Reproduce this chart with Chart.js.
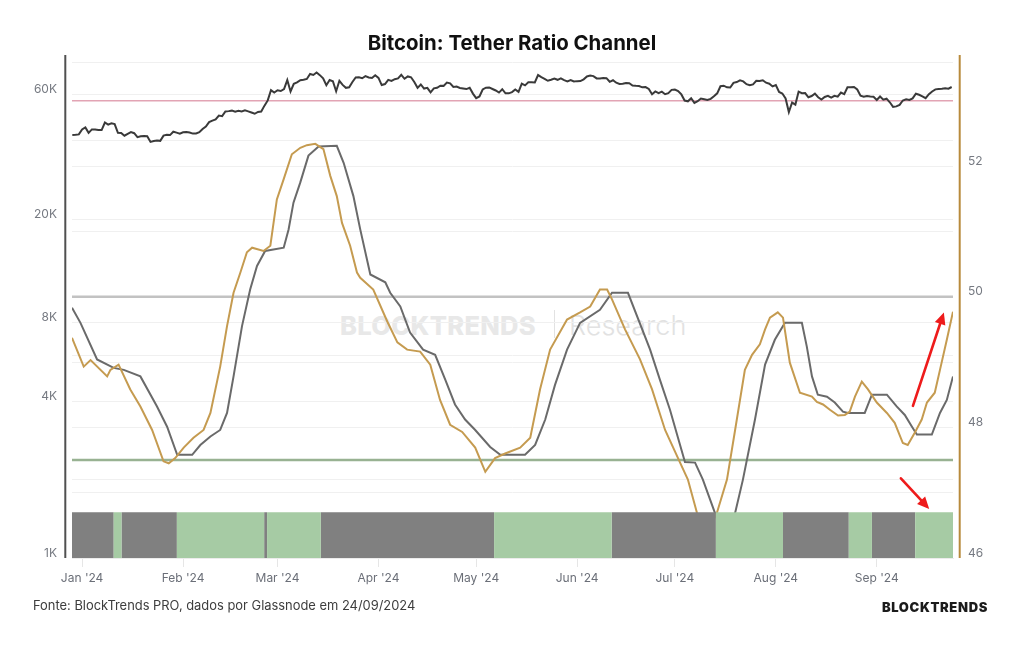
<!DOCTYPE html>
<html>
<head>
<meta charset="utf-8">
<script src="https://cdn.jsdelivr.net/npm/chart.js@4.4.1/dist/chart.umd.min.js"></script>
<style>
  html, body { margin: 0; padding: 0; background: #fff; }
  #wrap { position: relative; width: 1024px; height: 645px; overflow: hidden; font-family: Inter, "Open Sans", sans-serif; }
  #c { position: absolute; left: 0; top: 0; z-index: 1; }
  .wm1 { position: absolute; left: 340px; top: 311px; font: 800 25.5px Inter, sans-serif; color: #e8e8e8; line-height: 30px; z-index: 0; letter-spacing: 0.3px; }
  .wmbar { position: absolute; left: 554px; top: 310px; width: 1px; height: 28px; background: #e2e2e2; z-index: 0; }
  .wm2 { position: absolute; left: 569px; top: 310px; font: 300 27px Inter, sans-serif; color: #e2e2e2; line-height: 32px; z-index: 0; }
  #title { position: absolute; left: 0; top: 30px; width: 1024px; text-align: center; font: 700 20.4px Inter, sans-serif; color: #111; line-height: 26px; z-index: 2; }
  #src { position: absolute; left: 33px; top: 597px; font: 400 12.9px Inter, sans-serif; color: #3d3d3d; line-height: 18px; z-index: 2; }
  #logo { position: absolute; right: 36px; top: 598px; font: 900 13px Inter, sans-serif; color: #1b1b1b; line-height: 18px; letter-spacing: 0.65px; z-index: 2; }
</style>
</head>
<body>
<div id="wrap">
  <div class="wm1">BLOCKTRENDS</div>
  <div class="wmbar"></div>
  <div class="wm2">Research</div>
  <canvas id="c" width="1024" height="645"></canvas>
  <div id="title">Bitcoin: Tether Ratio Channel</div>
  <div id="src">Fonte: BlockTrends PRO, dados por Glassnode em 24/09/2024</div>
  <div id="logo">BLOCKTRENDS</div>
</div>
<script>
// ---------- DATA ----------
// Month tick positions (days since 1 Jan 2024) and labels
const monthDays = [0, 31, 60, 91, 121, 152, 182, 213, 244];
const monthLabels = ["Jan '24", "Feb '24", "Mar '24", "Apr '24", "May '24", "Jun '24", "Jul '24", "Aug '24", "Sep '24"];

// Left (log) axis
const priceGridTicks = [1000, 2000, 4000, 6000, 8000, 10000, 20000, 40000, 60000, 80000];
const priceLabelTicks = { 1000: '1K', 4000: '4K', 8000: '8K', 20000: '20K', 60000: '60K' };

// Right axis
const ratioTicks = [46, 47, 48, 49, 50, 51, 52, 53];

// BTC daily close in thousands USD, from 29 Dec 2023 (day -3) to 24 Sep 2024 (day 267)
const btcStartDay = -3;
const btcPriceK = [
  42.10, 42.15, 42.28,
  44.18, 44.95, 42.85, 44.18, 44.16, 43.97, 43.93, 46.97, 46.11, 46.63, 46.34, 42.89, 42.84, 41.80, 42.51, 43.15, 42.74, 41.26, 41.62, 41.66, 41.58, 39.57, 39.88, 40.08, 39.94, 41.82, 42.12, 42.03, 43.30, 42.94, 42.58,
  43.08, 43.19, 43.00, 42.58, 42.66, 43.09, 44.34, 45.30, 47.15, 47.77, 48.29, 49.96, 49.70, 51.80, 51.94, 52.16, 51.66, 52.12, 51.78, 52.28, 51.84, 51.30, 50.74, 51.57, 51.73, 54.52, 57.09, 62.50, 61.20,
  62.44, 62.03, 63.17, 68.33, 61.80, 66.10, 66.93, 68.30, 68.50, 69.02, 72.12, 71.48, 73.10, 71.40, 69.40, 65.30, 68.39, 67.60, 61.90, 67.90, 65.50, 63.80, 64.10, 67.20, 69.90, 69.99, 69.45, 70.74, 69.90, 69.65, 71.33,
  69.70, 65.40, 65.98, 68.50, 67.84, 68.90, 69.36, 71.62, 69.14, 70.59, 70.06, 67.20, 63.80, 65.74, 63.42, 63.81, 61.28, 63.51, 63.84, 64.99, 64.93, 66.84, 66.41, 64.29, 64.50, 63.76, 63.42, 63.11, 63.84, 60.64,
  58.25, 59.12, 62.89, 63.89, 64.03, 63.16, 62.33, 61.19, 63.05, 60.79, 60.79, 61.45, 62.90, 61.55, 66.27, 65.23, 67.05, 67.00, 66.94, 71.43, 70.14, 69.12, 67.93, 68.53, 69.27, 68.51, 69.39, 68.30, 67.58, 68.36, 67.49,
  67.71, 67.75, 68.80, 70.56, 71.08, 70.79, 69.34, 69.30, 69.65, 69.50, 67.32, 68.24, 66.75, 66.01, 66.19, 66.64, 66.49, 65.15, 64.96, 64.83, 64.10, 64.25, 63.18, 60.28, 61.80, 60.87, 61.67, 60.32, 60.89, 62.68,
  62.85, 62.03, 60.20, 57.05, 56.66, 58.23, 55.86, 56.70, 58.05, 57.72, 57.34, 57.89, 59.20, 60.80, 64.72, 65.04, 64.10, 63.97, 66.70, 67.15, 68.16, 67.55, 65.93, 65.37, 65.78, 67.90, 67.81, 68.25, 66.78, 66.19, 64.62,
  65.35, 61.50, 60.68, 58.11, 51.50, 56.03, 55.03, 61.71, 60.88, 60.94, 58.71, 59.35, 60.61, 58.74, 57.56, 58.88, 59.48, 58.48, 59.49, 59.01, 61.18, 60.38, 64.10, 64.18, 64.25, 62.88, 59.50, 59.03, 59.39, 59.12, 58.97,
  57.33, 59.12, 57.48, 57.97, 56.16, 53.95, 54.16, 54.87, 57.05, 57.65, 57.34, 58.13, 60.57, 60.00, 59.18, 58.21, 60.31, 61.76, 62.95, 63.20, 63.35, 63.58, 63.34, 64.28
];

// Tether ratio (gold) — [day, value]
const tetherRatio = [
  [-3.1,49.37],[0.5,48.93],[2.6,49.03],[7.7,48.78],[8.7,48.88],[11.2,48.96],[14.8,48.58],[17.9,48.32],[21.5,47.96],[25.0,47.48],
  [26.6,47.45],[28.6,47.53],[31.2,47.69],[34.2,47.84],[37.3,47.96],[39.4,48.22],[42.4,48.93],[44.5,49.55],[46.5,50.06],[48.6,50.37],
  [50.6,50.68],[52.2,50.75],[55.7,50.70],[57.8,50.78],[59.8,51.49],[61.9,51.80],[64.4,52.18],[67.0,52.28],[69.0,52.32],[71.6,52.34],
  [74.1,52.26],[76.2,51.85],[78.2,51.54],[79.8,51.13],[82.3,50.78],[84.4,50.37],[85.4,50.29],[89.4,50.11],[93.7,49.62],[96.8,49.30],
  [99.8,49.19],[103.8,49.16],[106.9,48.96],[109.9,48.42],[113.0,48.04],[116.7,47.93],[120.7,47.69],[123.8,47.32],[126.8,47.53],[129.9,47.60],
  [134.5,47.69],[137.6,47.84],[140.6,48.58],[143.7,49.19],[148.9,49.65],[152.9,49.76],[156.0,49.85],[159.0,50.11],[161.2,50.11],[162.7,49.96],
  [166.7,49.50],[171.3,49.04],[175.0,48.58],[179.0,47.96],[183.6,47.46],[186.0,47.20],[188.8,46.69],[191.2,46.30],[194.9,46.69],[198.0,47.20],
  [200.5,47.96],[203.5,48.88],[205.7,49.11],[208.1,49.27],[209.7,49.50],[211.2,49.68],[213.6,49.76],[215.2,49.68],[217.3,48.99],[220.4,48.53],
  [224.1,48.47],[225.6,48.39],[227.5,48.35],[229.6,48.27],[232.1,48.18],[234.2,48.19],[235.7,48.24],[237.3,48.47],[239.4,48.70],[241.3,48.58],
  [244.0,48.38],[247.1,48.22],[249.5,48.07],[252.0,47.76],[253.5,47.73],[255.7,47.92],[257.8,48.12],[259.4,48.38],[261.8,48.53],[263.4,48.88],
  [265.5,49.34],[267.4,49.77]
];

// Channel signal (gray) — [day, value]
const channelSignal = [
  [-3.1,49.83],[-0.5,49.60],[4.6,49.04],[9.7,48.91],[12.8,48.88],[17.9,48.78],[23.0,48.32],[26.1,48.01],[29.2,47.58],[33.8,47.58],
  [36.3,47.73],[39.4,47.86],[42.4,47.96],[44.5,48.22],[46.5,48.78],[49.1,49.55],[51.6,50.11],[53.7,50.47],[56.2,50.70],[61.9,50.75],
  [63.4,51.03],[64.9,51.44],[67.0,51.75],[69.5,52.16],[72.6,52.30],[78.2,52.31],[80.3,52.05],[83.3,51.54],[85.4,51.03],[88.5,50.34],
  [93.1,50.22],[94.6,50.06],[97.7,49.85],[100.7,49.45],[104.7,49.19],[108.4,49.11],[111.5,48.73],[114.5,48.35],[117.6,48.12],[120.7,47.96],
  [125.3,47.70],[128.4,47.58],[136.0,47.58],[139.1,47.73],[142.2,48.12],[145.2,48.65],[148.9,49.19],[152.9,49.60],[159.0,49.80],[162.7,50.06],
  [167.6,50.06],[174.4,49.19],[177.4,48.73],[180.5,48.27],[183.6,47.73],[185.1,47.47],[188.2,47.46],[190.6,47.20],[194.3,46.69],[197.4,46.30],
  [200.5,46.69],[202.9,47.20],[206.6,48.12],[209.7,48.96],[212.7,49.34],[215.8,49.60],[221.0,49.60],[222.5,49.24],[224.1,48.78],[225.9,48.50],
  [228.7,48.47],[231.1,48.38],[233.6,48.24],[235.1,48.22],[240.3,48.22],[242.5,48.50],[247.1,48.50],[250.1,48.32],[252.6,48.19],[254.8,48.01],
  [256.3,47.89],[260.9,47.89],[263.4,48.22],[265.5,48.42],[267.4,48.78]
];

// Reference levels on the right axis
const upperLevel = 50;
const lowerLevel = 47.5;
const priceLevel = 53;

// Regime band: segment start days and state (1 = bullish/green, 0 = bearish/gray)
const bandStarts = [-3.1, 9.7, 12.1, 29.1, 55.9, 56.8, 73.3, 126.5, 162.6, 194.6, 215.2, 235.4, 242.5, 255.8];
const bandStates = [0, 1, 0, 1, 0, 1, 0, 1, 0, 1, 0, 1, 0, 1];
const bandEnd = 267.4;

// Annotation arrows [day0, value0, day1, value1] on right axis
const arrowUp = [255.1, 48.33, 264.6, 49.76];
const arrowDown = [251.4, 47.22, 260.1, 46.75];

// ---------- BUILD ----------
const X_MIN = -3.1, X_MAX = 267.4;
const RATIO_MIN = 46, RATIO_MAX = 53.7, BAND_TOP = 46.7;

const btcData = btcPriceK.map((v, i) => ({ x: btcStartDay + i, y: v * 1000 }));
const toXY = arr => arr.map(p => ({ x: p[0], y: p[1] }));
const levelLine = v => [{ x: X_MIN, y: v }, { x: X_MAX, y: v }];
function bandData(state) {
  const pts = bandStarts.map((d, i) => ({ x: d, y: bandStates[i] === state ? BAND_TOP : RATIO_MIN }));
  pts.push({ x: bandEnd, y: bandStates[bandStates.length - 1] === state ? BAND_TOP : RATIO_MIN });
  return pts;
}

const common = { pointRadius: 0, pointHoverRadius: 0, tension: 0, fill: false };

const decor = {
  id: 'decor',
  afterDatasetsDraw(chart) {
    const { ctx, scales } = chart;
    ctx.save();
    ctx.strokeStyle = '#ee1b1b';
    ctx.fillStyle = '#ee1b1b';
    ctx.lineWidth = 2.6;
    ctx.lineCap = 'round';
    [arrowUp, arrowDown].forEach(a => {
      const x0 = scales.x.getPixelForValue(a[0]), y0 = scales.yRatio.getPixelForValue(a[1]);
      const x1 = scales.x.getPixelForValue(a[2]), y1 = scales.yRatio.getPixelForValue(a[3]);
      const ang = Math.atan2(y1 - y0, x1 - x0);
      const hl = 12, hw = 5.5;
      const bx = x1 - hl * Math.cos(ang), by = y1 - hl * Math.sin(ang);
      ctx.beginPath(); ctx.moveTo(x0, y0); ctx.lineTo(bx, by); ctx.stroke();
      ctx.beginPath();
      ctx.moveTo(x1, y1);
      ctx.lineTo(bx + hw * Math.sin(ang), by - hw * Math.cos(ang));
      ctx.lineTo(bx - hw * Math.sin(ang), by + hw * Math.cos(ang));
      ctx.closePath(); ctx.fill();
    });
    ctx.restore();
  },
  afterDraw(chart) {
    const { ctx, chartArea: a } = chart;
    ctx.save();
    ctx.fillStyle = '#505050';
    ctx.fillRect(a.left - 7.7, a.top, 2, a.bottom - a.top);
    ctx.fillStyle = '#b88a3c';
    ctx.fillRect(a.right + 5.7, a.top, 2, a.bottom - a.top);
    ctx.restore();
  }
};

const tickFont = { family: 'Inter, "Open Sans", sans-serif', size: 12 };

new Chart(document.getElementById('c'), {
  type: 'line',
  data: {
    datasets: [
      { ...common, label: 'Band bull', data: bandData(1), yAxisID: 'yRatio', stepped: 'before', borderWidth: 0, borderColor: 'rgba(0,0,0,0)', backgroundColor: '#a6cba4', fill: 'start', order: 0 },
      { ...common, label: 'Band bear', data: bandData(0), yAxisID: 'yRatio', stepped: 'before', borderWidth: 0, borderColor: 'rgba(0,0,0,0)', backgroundColor: '#808080', fill: 'start', order: 0 },
      { ...common, label: 'Tether ratio', data: toXY(tetherRatio), yAxisID: 'yRatio', borderColor: '#c59b50', borderWidth: 2, order: 2 },
      { ...common, label: 'Signal', data: toXY(channelSignal), yAxisID: 'yRatio', borderColor: '#6a6a6a', borderWidth: 2, order: 3 },
      { ...common, label: 'BTC', data: btcData, yAxisID: 'yPrice', borderColor: '#3a3a3a', borderWidth: 2, order: 4 },
      { ...common, label: 'Upper', data: levelLine(upperLevel), yAxisID: 'yRatio', borderColor: '#c2c2c2', borderWidth: 2.5, order: 6 },
      { ...common, label: 'Lower', data: levelLine(lowerLevel), yAxisID: 'yRatio', borderColor: '#98b292', borderWidth: 2.5, order: 6 },
      { ...common, label: 'Price level', data: levelLine(priceLevel), yAxisID: 'yRatio', borderColor: '#e2a4b4', borderWidth: 1.5, order: 6 }
    ]
  },
  options: {
    responsive: false,
    animation: false,
    events: [],
    layout: { padding: { top: 55, left: 0, right: 0, bottom: 0 } },
    plugins: { legend: { display: false }, tooltip: { enabled: false }, title: { display: false } },
    scales: {
      x: {
        type: 'linear', min: X_MIN, max: X_MAX,
        afterBuildTicks: s => { s.ticks = monthDays.map(v => ({ value: v })); },
        afterFit: s => { s.height = 87; },
        ticks: {
          autoSkip: false, maxRotation: 0, padding: 4, color: '#6b6f78', font: tickFont,
          callback: v => { const i = monthDays.indexOf(v); return i >= 0 ? monthLabels[i] : ''; }
        },
        grid: { drawOnChartArea: false, drawTicks: true, tickLength: 9, color: '#e6e6e6' },
        border: { display: true, color: '#ececec' }
      },
      yPrice: {
        type: 'logarithmic', position: 'left', min: 1000, max: 85300,
        afterBuildTicks: s => { s.ticks = priceGridTicks.map(v => ({ value: v })); },
        afterFit: s => { s.width = 72; },
        ticks: {
          autoSkip: false, padding: 15, labelOffset: -5, color: '#767a82', font: tickFont,
          callback: v => priceLabelTicks[v] || ''
        },
        grid: { drawTicks: false, color: '#f0f0f0', lineWidth: 1 },
        border: { display: false }
      },
      yRatio: {
        type: 'linear', position: 'right', min: RATIO_MIN, max: RATIO_MAX,
        afterBuildTicks: s => { s.ticks = ratioTicks.map(v => ({ value: v })); },
        afterFit: s => { s.width = 71; },
        ticks: {
          autoSkip: false, padding: 15, labelOffset: -5, color: '#767a82', font: tickFont,
          callback: v => (v % 2 === 0 ? String(v) : '')
        },
        grid: { drawTicks: false, color: '#f0f0f0', lineWidth: 1 },
        border: { display: false }
      }
    }
  },
  plugins: [decor]
});
</script>
</body>
</html>
